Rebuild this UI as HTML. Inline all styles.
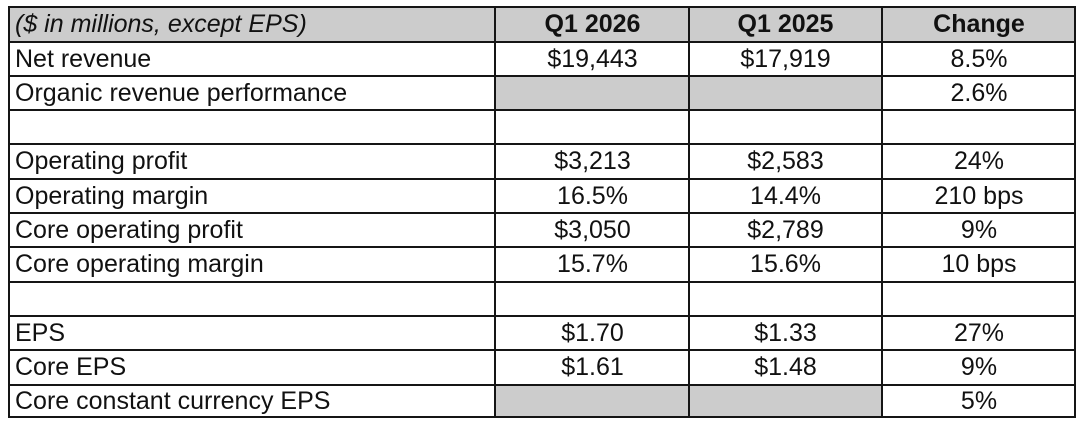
<!DOCTYPE html>
<html><head><meta charset="utf-8"><style>
html,body{margin:0;padding:0;background:#fff;}
body{width:1080px;height:425px;position:relative;overflow:hidden;font-family:"Liberation Sans",Arial,sans-serif;color:#111;}
.g{position:absolute;background:#cccccc;}
.h{position:absolute;left:8px;width:1068px;height:2px;background:#151515;}
.v{position:absolute;top:6px;height:412px;width:2px;background:#151515;}
.t{position:absolute;font-size:25px;line-height:34px;white-space:nowrap;}
.l{left:15px;}
.c1{left:497px;width:191px;text-align:center;}
.c2{left:690px;width:191px;text-align:center;}
.c3{left:884px;width:190px;text-align:center;}
.b{font-weight:bold;}
.i{font-style:italic;}
</style></head><body>
<div class="g" style="left:9px;top:7px;width:1066px;height:35px;"></div>
<div class="g" style="left:496px;top:76px;width:386px;height:34px;"></div>
<div class="g" style="left:496px;top:385px;width:386px;height:32px;"></div>

<div class="h" style="top:6px"></div>
<div class="h" style="top:41px"></div>
<div class="h" style="top:75px"></div>
<div class="h" style="top:109px"></div>
<div class="h" style="top:143px"></div>
<div class="h" style="top:178px"></div>
<div class="h" style="top:212px"></div>
<div class="h" style="top:246px"></div>
<div class="h" style="top:281px"></div>
<div class="h" style="top:315px"></div>
<div class="h" style="top:349px"></div>
<div class="h" style="top:384px"></div>
<div class="h" style="top:416px"></div>
<div class="v" style="left:8px"></div>
<div class="v" style="left:494px"></div>
<div class="v" style="left:688px"></div>
<div class="v" style="left:881px"></div>
<div class="v" style="left:1074px"></div>

<div class="t l i" style="top:7px">($ in millions, except EPS)</div>
<div class="t c1 b" style="top:7px">Q1 2026</div>
<div class="t c2 b" style="top:7px">Q1 2025</div>
<div class="t c3 b" style="top:7px">Change</div>

<div class="t l" style="top:42px">Net revenue</div>
<div class="t c1" style="top:42px">$19,443</div>
<div class="t c2" style="top:42px">$17,919</div>
<div class="t c3" style="top:42px">8.5%</div>

<div class="t l" style="top:76px">Organic revenue performance</div>
<div class="t c3" style="top:76px">2.6%</div>

<div class="t l" style="top:144px">Operating profit</div>
<div class="t c1" style="top:144px">$3,213</div>
<div class="t c2" style="top:144px">$2,583</div>
<div class="t c3" style="top:144px">24%</div>

<div class="t l" style="top:179px">Operating margin</div>
<div class="t c1" style="top:179px">16.5%</div>
<div class="t c2" style="top:179px">14.4%</div>
<div class="t c3" style="top:179px">210 bps</div>

<div class="t l" style="top:213px">Core operating profit</div>
<div class="t c1" style="top:213px">$3,050</div>
<div class="t c2" style="top:213px">$2,789</div>
<div class="t c3" style="top:213px">9%</div>

<div class="t l" style="top:247px">Core operating margin</div>
<div class="t c1" style="top:247px">15.7%</div>
<div class="t c2" style="top:247px">15.6%</div>
<div class="t c3" style="top:247px">10 bps</div>

<div class="t l" style="top:316px">EPS</div>
<div class="t c1" style="top:316px">$1.70</div>
<div class="t c2" style="top:316px">$1.33</div>
<div class="t c3" style="top:316px">27%</div>

<div class="t l" style="top:350px">Core EPS</div>
<div class="t c1" style="top:350px">$1.61</div>
<div class="t c2" style="top:350px">$1.48</div>
<div class="t c3" style="top:350px">9%</div>

<div class="t l" style="top:384px">Core constant currency EPS</div>
<div class="t c3" style="top:384px">5%</div>
</body></html>
